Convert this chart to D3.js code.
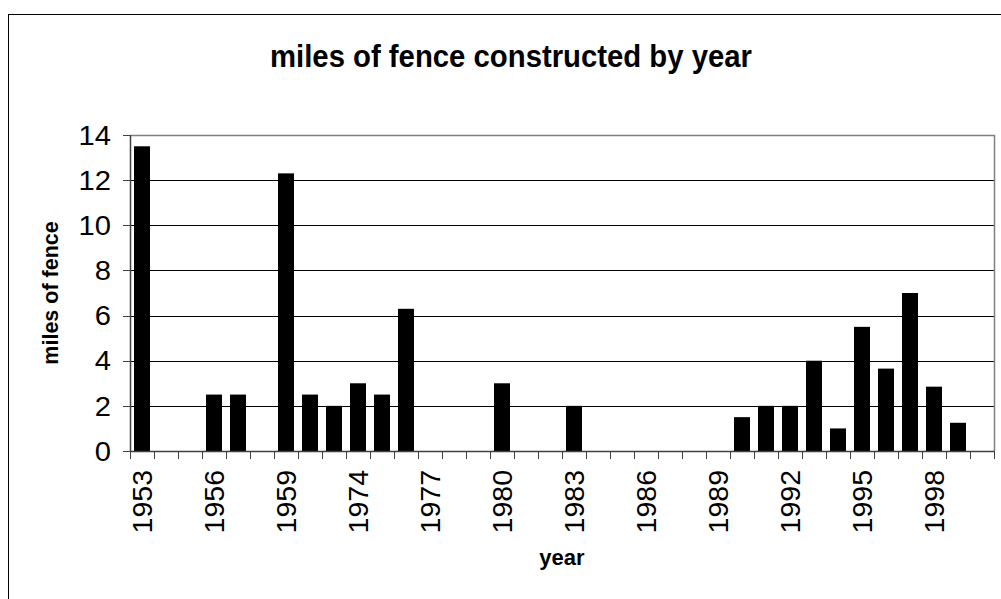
<!DOCTYPE html>
<html>
<head>
<meta charset="utf-8">
<script src="https://cdn.jsdelivr.net/npm/d3@7"></script>
<style>
  html, body { margin: 0; padding: 0; background: #fff; }
  svg { display: block; font-family: "Liberation Sans", Arial, sans-serif; }
</style>
</head>
<body>
<svg id="chart" width="1001" height="599"></svg>
<script>
// Fence construction record: one category per recorded year
const years = ["1953","1954","1955","1956","1957","1958","1959","1960","1973",
  "1974","1975","1976","1977","1978","1979","1980","1981","1982","1983","1984",
  "1985","1986","1987","1988","1989","1990","1991","1992","1993","1994","1995",
  "1996","1997","1998","1999","2000"];
const miles = [13.5,0,0,2.5,2.5,0,12.3,2.5,2,
  3,2.5,6.3,0,0,0,3,0,0,2,0,
  0,0,0,0,0,1.5,2,2,4,1,5.5,
  3.65,7,2.85,1.25,0];
const xTickLabels = ["1953","1956","1959","1974","1977","1980","1983","1986","1989","1992","1995","1998"];
const yTicks = [0,2,4,6,8,10,12,14];

const svg = d3.select("#chart");

// outer chart frame (runs off the right/bottom edge)
svg.append("rect")
  .attr("x", 8.5).attr("y", 14.5)
  .attr("width", 1040).attr("height", 640)
  .attr("fill", "#fff").attr("stroke", "#000").attr("stroke-width", 1);

const plot = { left: 130, right: 994, top: 135, bottom: 451 };

const x = d3.scaleBand()
  .domain(years)
  .range([plot.left, plot.right])
  .paddingInner(1/3)
  .paddingOuter(1/6);
const step = x.step();

const y = d3.scaleLinear().domain([0, 14]).range([plot.bottom, plot.top]);

// gridlines
svg.append("g").selectAll("line")
  .data(yTicks.filter(t => t > 0 && t < 14))
  .join("line")
  .attr("x1", plot.left).attr("x2", plot.right)
  .attr("y1", d => Math.round(y(d)) + 0.5).attr("y2", d => Math.round(y(d)) + 0.5)
  .attr("stroke", "#000").attr("stroke-width", 1);

// plot border (top and right)
svg.append("path")
  .attr("d", `M${plot.left},${plot.top + 0.5}H${plot.right + 0.5}V${plot.bottom}`)
  .attr("fill", "none").attr("stroke", "#808080").attr("stroke-width", 1.5);

// bars
svg.append("g").selectAll("rect")
  .data(years.map((yr, i) => ({ yr, v: miles[i] })).filter(d => d.v > 0))
  .join("rect")
  .attr("x", d => x(d.yr))
  .attr("width", x.bandwidth())
  .attr("y", d => y(d.v))
  .attr("height", d => y(0) - y(d.v))
  .attr("fill", "#000");

// y axis
const yAxis = svg.append("g");
yAxis.append("line")
  .attr("x1", plot.left + 0.5).attr("x2", plot.left + 0.5)
  .attr("y1", plot.top).attr("y2", plot.bottom)
  .attr("stroke", "#404040").attr("stroke-width", 1.5);
yAxis.selectAll("line.tick")
  .data(yTicks)
  .join("line").attr("class", "tick")
  .attr("x1", plot.left - 7).attr("x2", plot.left)
  .attr("y1", d => Math.round(y(d)) + 0.5).attr("y2", d => Math.round(y(d)) + 0.5)
  .attr("stroke", "#404040").attr("stroke-width", 1);
yAxis.selectAll("text")
  .data(yTicks)
  .join("text")
  .attr("transform", d => `translate(${plot.left - 19},${y(d)}) scale(1.08,1)`)
  .attr("dy", "0.36em")
  .attr("text-anchor", "end")
  .attr("font-size", 27)
  .attr("fill", "#000")
  .text(d => d);

// x axis
const xAxis = svg.append("g");
xAxis.append("line")
  .attr("x1", plot.left).attr("x2", plot.right + 0.5)
  .attr("y1", plot.bottom + 0.5).attr("y2", plot.bottom + 0.5)
  .attr("stroke", "#404040").attr("stroke-width", 1.5);
const boundaries = years.map(d => x(d) - step * x.paddingInner() / 2).concat([plot.right]);
xAxis.selectAll("line.tick")
  .data(boundaries)
  .join("line").attr("class", "tick")
  .attr("x1", d => Math.round(d) + 0.5).attr("x2", d => Math.round(d) + 0.5)
  .attr("y1", plot.bottom).attr("y2", plot.bottom + 8)
  .attr("stroke", "#404040").attr("stroke-width", 1);
xAxis.selectAll("text")
  .data(xTickLabels)
  .join("text")
  .attr("transform", d => `translate(${x(d) + x.bandwidth() / 2},${plot.bottom + 19}) rotate(-90)`)
  .attr("dy", "0.36em")
  .attr("text-anchor", "end")
  .attr("font-size", 28.5)
  .attr("fill", "#000")
  .text(d => d);

// titles
svg.append("text")
  .attr("x", 511).attr("y", 67)
  .attr("text-anchor", "middle")
  .attr("font-size", 31).attr("font-weight", "bold")
  .attr("textLength", 482).attr("lengthAdjust", "spacingAndGlyphs")
  .text("miles of fence constructed by year");

svg.append("text")
  .attr("transform", `translate(${(plot.left + plot.right) / 2},565)`)
  .attr("text-anchor", "middle")
  .attr("font-size", 22).attr("font-weight", "bold")
  .text("year");

svg.append("text")
  .attr("transform", `translate(58,${(plot.top + plot.bottom) / 2}) rotate(-90)`)
  .attr("text-anchor", "middle")
  .attr("font-size", 21.5).attr("font-weight", "bold")
  .text("miles of fence");
</script>
</body>
</html>
